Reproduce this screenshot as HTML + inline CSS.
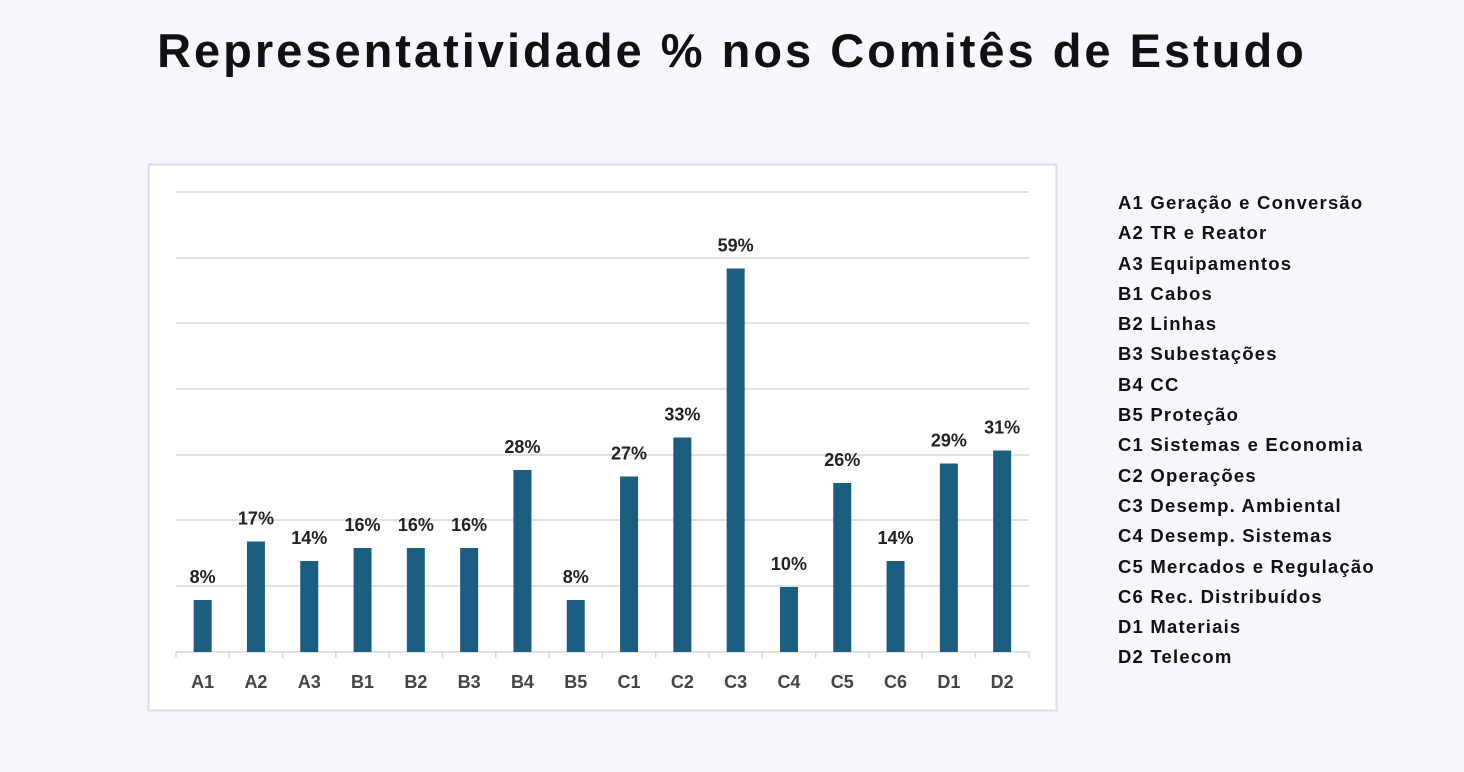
<!DOCTYPE html>
<html><head><meta charset="utf-8"><style>
body{margin:0;width:1464px;height:772px;background:#f5f7fd;font-family:"Liberation Sans",sans-serif;position:relative;overflow:hidden}
h1{position:absolute;left:0;width:1464px;top:23px;margin:0;text-align:center;font-size:47px;letter-spacing:3px;font-weight:bold;color:#111}
.legend{position:absolute;left:1118px;top:188px;font-size:18.5px;letter-spacing:1.2px;font-weight:bold;color:#111;line-height:30.3px}
</style></head><body>
<h1>Representatividade % nos Comitês de Estudo</h1>
<svg style="position:absolute;left:0;top:0" width="1464" height="772">
<rect x="148.5" y="164.5" width="908" height="546" fill="#fff" stroke="#dcdde2" stroke-width="2"/>
<g stroke="#d6d7db" stroke-width="1.5">
<line x1="176" x2="1029" y1="192" y2="192"/><line x1="176" x2="1029" y1="258" y2="258"/>
<line x1="176" x2="1029" y1="323" y2="323"/><line x1="176" x2="1029" y1="389" y2="389"/>
<line x1="176" x2="1029" y1="455" y2="455"/><line x1="176" x2="1029" y1="520" y2="520"/>
<line x1="176" x2="1029" y1="586" y2="586"/><line x1="176" x2="1029" y1="652" y2="652"/>
</g>
<g id="bars"></g>
</svg>
<div class="legend">A1 Geração e Conversão<br>A2 TR e Reator<br>A3 Equipamentos<br>B1 Cabos<br>B2 Linhas<br>B3 Subestações<br>B4 CC<br>B5 Proteção<br>C1 Sistemas e Economia<br>C2 Operações<br>C3 Desemp. Ambiental<br>C4 Desemp. Sistemas<br>C5 Mercados e Regulação<br>C6 Rec. Distribuídos<br>D1 Materiais<br>D2 Telecom</div>
<script>
var d=[["A1",8],["A2",17],["A3",14],["B1",16],["B2",16],["B3",16],["B4",28],["B5",8],["C1",27],["C2",33],["C3",59],["C4",10],["C5",26],["C6",14],["D1",29],["D2",31]];
var g=document.getElementById("bars"),s="";
d.forEach(function(e,i){var cx=176+53.3*(i+0.5),h=e[1]*6.5,t=652-h;
s+='<rect x="'+(cx-9)+'" y="'+t+'" width="18" height="'+h+'" fill="#1b5e80"/>';
s+='<line x1="'+(176+53.3*i)+'" x2="'+(176+53.3*i)+'" y1="652" y2="658" stroke="#d6d7db" stroke-width="1.5"/>';
s+='<text x="'+cx+'" y="'+(t-17)+'" text-anchor="middle" font-size="18" font-weight="bold" fill="#222" font-family="Liberation Sans">'+e[1]+'%</text>';
s+='<text x="'+cx+'" y="688" text-anchor="middle" font-size="18" font-weight="bold" fill="#444" font-family="Liberation Sans">'+e[0]+'</text>';});
s+='<line x1="1029" x2="1029" y1="652" y2="658" stroke="#d6d7db" stroke-width="1.5"/>';
g.innerHTML=s;
</script>
</body></html>
